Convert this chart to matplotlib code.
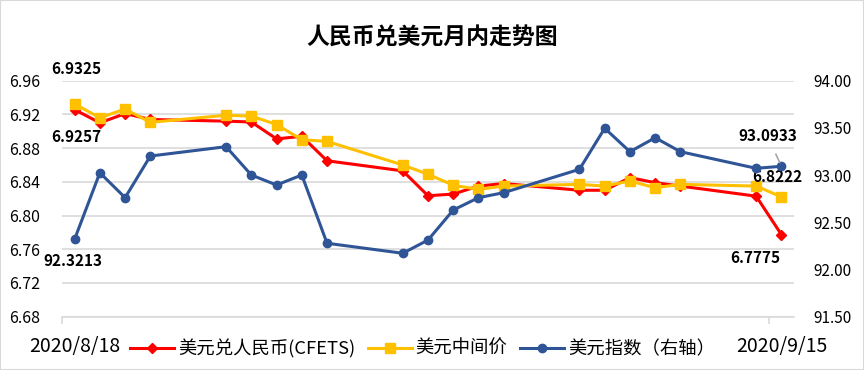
import pandas as pd
import matplotlib
matplotlib.use('Agg')
import matplotlib.pyplot as plt
from matplotlib.patches import Rectangle

plt.rcParams['font.family'] = ['Noto Sans CJK SC', 'DejaVu Sans']

# trading days
dates = pd.to_datetime([
    '2020-08-18', '2020-08-19', '2020-08-20', '2020-08-21',
    '2020-08-24', '2020-08-25', '2020-08-26', '2020-08-27', '2020-08-28',
    '2020-08-31', '2020-09-01', '2020-09-02', '2020-09-03', '2020-09-04',
    '2020-09-07', '2020-09-08', '2020-09-09', '2020-09-10', '2020-09-11',
    '2020-09-14', '2020-09-15'])

cfets = [6.9257, 6.910, 6.921, 6.914, 6.912, 6.911, 6.891, 6.894, 6.865,
         6.853, 6.8235, 6.8255, 6.835, 6.838, 6.830, 6.830, 6.845, 6.839,
         6.835, 6.823, 6.7775]
central = [6.9325, 6.916, 6.9264, 6.9106, 6.919, 6.918, 6.908, 6.890, 6.888,
           6.860, 6.849, 6.836, 6.831, 6.835, 6.837, 6.835, 6.841, 6.833,
           6.837, 6.835, 6.8222]
dxy = [92.3213, 93.025, 92.761, 93.202, 93.301, 93.001, 92.895, 93.001,
       92.278, 92.172, 92.312, 92.630, 92.761, 92.814, 93.061, 93.496,
       93.248, 93.396, 93.248, 93.072, 93.0933]

left_ticks = [6.68, 6.72, 6.76, 6.80, 6.84, 6.88, 6.92, 6.96]
right_ticks = [91.5, 92.0, 92.5, 93.0, 93.5, 94.0]

fig = plt.figure(figsize=(8.64, 3.7), dpi=100)
ax = fig.add_axes([62 / 864, 1 - 316.7 / 370, (794 - 62) / 864, (316.7 - 80.7) / 370])
ax2 = ax.twinx()

red = '#FF0000'
yellow = '#FFC000'
blue = '#2F5597'

l1, = ax.plot(dates, cfets, color=red, lw=2.2, marker='D', ms=5, label='美元兑人民币(CFETS)')
l2, = ax.plot(dates, central, color=yellow, lw=2.2, marker='s', ms=6.5, label='美元中间价')
l3, = ax2.plot(dates, dxy, color=blue, lw=2.2, marker='o', ms=6, label='美元指数（右轴）')

half = pd.Timedelta(hours=12)
ax.set_xlim(dates[0] - half, dates[-1] + half)
ax.set_ylim(6.68, 6.96)
ax2.set_ylim(91.5, 94.0)

ax.set_yticks(left_ticks)
ax.set_yticklabels([f'{v:.2f}' for v in left_ticks])
ax2.set_yticks(right_ticks)
ax2.set_yticklabels([f'{v:.2f}' for v in right_ticks])
ax.yaxis.grid(True, color='#d9d9d9', lw=1.2)
ax.set_axisbelow(True)

ax.set_xticks([dates[0], dates[-1]])
ax.set_xticklabels(['2020/8/18', '2020/9/15'])
ax.set_xticks([dates[0] - half, dates[-1] - half], minor=True)
ax.tick_params(axis='x', which='major', length=0, pad=14, labelsize=14)
ax.tick_params(axis='x', which='minor', length=5, color='#d9d9d9', width=1.2)
ax.tick_params(axis='y', length=0, pad=16, labelsize=11.5)
ax2.tick_params(axis='y', length=0, pad=14, labelsize=11)

for a in (ax, ax2):
    for s in a.spines.values():
        s.set_visible(False)
ax.spines['bottom'].set_visible(True)
ax.spines['bottom'].set_color('#d9d9d9')
ax.spines['bottom'].set_linewidth(1.2)

# data labels
lab = dict(fontsize=11, fontweight='bold', ha='center', va='center')
ax.annotate('6.9325', (dates[0], central[0]), xytext=(1, 25), textcoords='offset points', **lab)
ax.annotate('6.9257', (dates[0], cfets[0]), xytext=(1, -20), textcoords='offset points', **lab)
ax2.annotate('92.3213', (dates[0], dxy[0]), xytext=(-1, -16), textcoords='offset points', **lab)
ax2.annotate('93.0933', (dates[-1], dxy[-1]), xytext=(-10, 22), textcoords='offset points',
             arrowprops=dict(arrowstyle='-', color='#a6a6a6', lw=1.2, shrinkA=6, shrinkB=3), **lab)
ax.annotate('6.8222', (dates[-1], central[-1]), xytext=(-3, 14), textcoords='offset points', **lab)
ax.annotate('6.7775', (dates[-1], cfets[-1]), xytext=(-19, -17), textcoords='offset points', **lab)

fig.text(0.5, 0.897, '人民币兑美元月内走势图', ha='center', va='center', fontsize=16.5, fontweight='heavy')

fig.legend(handles=[l1, l2, l3], loc='center', bbox_to_anchor=(0.489, 0.058), ncol=3,
           frameon=False, fontsize=13.2, handlelength=2.4, columnspacing=0.7, handletextpad=0.2)

fig.patches.append(Rectangle((0, 0), 1, 1, transform=fig.transFigure, fill=False,
                             edgecolor='#d9d9d9', lw=1.5))

fig.savefig('out.png', dpi=100)
